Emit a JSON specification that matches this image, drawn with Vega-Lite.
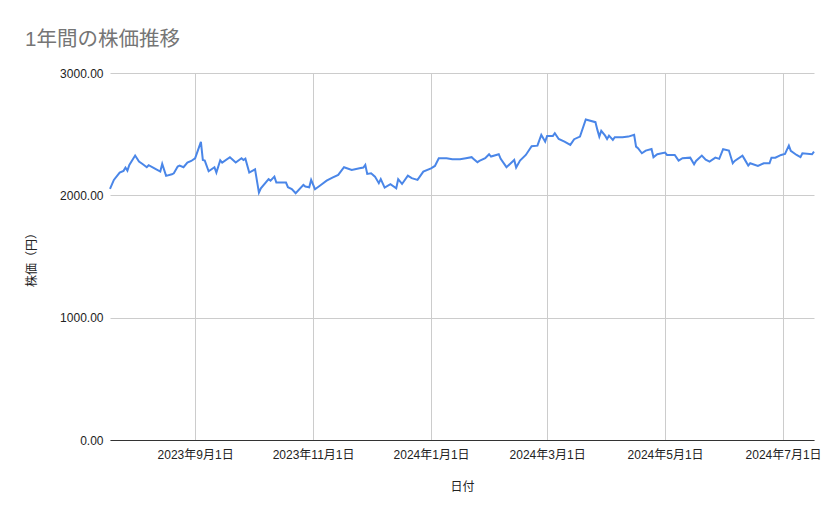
{
  "$schema": "https://vega.github.io/schema/vega-lite/v6.json",
  "width": 704,
  "height": 367,
  "autosize": "none",
  "padding": {"left": 110, "top": 73, "right": 25, "bottom": 79},
  "background": "#ffffff",
  "config": {
    "font": "Liberation Sans, Noto Sans CJK JP, sans-serif",
    "view": {"stroke": null}
  },
  "title": {
    "text": "1年間の株価推移",
    "anchor": "start",
    "dx": 0,
    "offset": 17,
    "fontSize": 20.5,
    "fontWeight": "normal",
    "color": "#757575"
  },
  "data": {
    "values": [
      {"date": "2023/07/19", "price": 2052},
      {"date": "2023/07/21", "price": 2126},
      {"date": "2023/07/24", "price": 2186},
      {"date": "2023/07/26", "price": 2200},
      {"date": "2023/07/27", "price": 2227},
      {"date": "2023/07/28", "price": 2202},
      {"date": "2023/07/29", "price": 2249},
      {"date": "2023/08/01", "price": 2325},
      {"date": "2023/08/03", "price": 2276},
      {"date": "2023/08/05", "price": 2254},
      {"date": "2023/08/07", "price": 2230},
      {"date": "2023/08/08", "price": 2246},
      {"date": "2023/08/11", "price": 2221},
      {"date": "2023/08/14", "price": 2194},
      {"date": "2023/08/15", "price": 2257},
      {"date": "2023/08/17", "price": 2159},
      {"date": "2023/08/20", "price": 2172},
      {"date": "2023/08/21", "price": 2180},
      {"date": "2023/08/23", "price": 2235},
      {"date": "2023/08/24", "price": 2243},
      {"date": "2023/08/26", "price": 2230},
      {"date": "2023/08/28", "price": 2268},
      {"date": "2023/08/30", "price": 2281},
      {"date": "2023/09/01", "price": 2303},
      {"date": "2023/09/04", "price": 2437},
      {"date": "2023/09/05", "price": 2289},
      {"date": "2023/09/06", "price": 2284},
      {"date": "2023/09/08", "price": 2197},
      {"date": "2023/09/11", "price": 2230},
      {"date": "2023/09/12", "price": 2186},
      {"date": "2023/09/14", "price": 2287},
      {"date": "2023/09/15", "price": 2268},
      {"date": "2023/09/19", "price": 2312},
      {"date": "2023/09/22", "price": 2268},
      {"date": "2023/09/25", "price": 2303},
      {"date": "2023/09/26", "price": 2289},
      {"date": "2023/09/27", "price": 2300},
      {"date": "2023/09/29", "price": 2186},
      {"date": "2023/10/02", "price": 2213},
      {"date": "2023/10/04", "price": 2022},
      {"date": "2023/10/05", "price": 2058},
      {"date": "2023/10/09", "price": 2132},
      {"date": "2023/10/10", "price": 2120},
      {"date": "2023/10/12", "price": 2153},
      {"date": "2023/10/13", "price": 2104},
      {"date": "2023/10/18", "price": 2104},
      {"date": "2023/10/19", "price": 2066},
      {"date": "2023/10/21", "price": 2052},
      {"date": "2023/10/23", "price": 2017},
      {"date": "2023/10/27", "price": 2085},
      {"date": "2023/10/28", "price": 2072},
      {"date": "2023/10/30", "price": 2066},
      {"date": "2023/10/31", "price": 2126},
      {"date": "2023/11/02", "price": 2050},
      {"date": "2023/11/05", "price": 2085},
      {"date": "2023/11/08", "price": 2120},
      {"date": "2023/11/11", "price": 2145},
      {"date": "2023/11/14", "price": 2167},
      {"date": "2023/11/17", "price": 2230},
      {"date": "2023/11/21", "price": 2208},
      {"date": "2023/11/25", "price": 2221},
      {"date": "2023/11/27", "price": 2227},
      {"date": "2023/11/28", "price": 2249},
      {"date": "2023/11/29", "price": 2175},
      {"date": "2023/12/01", "price": 2180},
      {"date": "2023/12/03", "price": 2153},
      {"date": "2023/12/05", "price": 2099},
      {"date": "2023/12/06", "price": 2132},
      {"date": "2023/12/08", "price": 2063},
      {"date": "2023/12/11", "price": 2091},
      {"date": "2023/12/14", "price": 2058},
      {"date": "2023/12/15", "price": 2132},
      {"date": "2023/12/17", "price": 2093},
      {"date": "2023/12/20", "price": 2161},
      {"date": "2023/12/22", "price": 2140},
      {"date": "2023/12/25", "price": 2126},
      {"date": "2023/12/28", "price": 2194},
      {"date": "2024/01/01", "price": 2221},
      {"date": "2024/01/03", "price": 2240},
      {"date": "2024/01/05", "price": 2303},
      {"date": "2024/01/09", "price": 2303},
      {"date": "2024/01/12", "price": 2295},
      {"date": "2024/01/16", "price": 2295},
      {"date": "2024/01/19", "price": 2303},
      {"date": "2024/01/22", "price": 2312},
      {"date": "2024/01/23", "price": 2298},
      {"date": "2024/01/25", "price": 2271},
      {"date": "2024/01/26", "price": 2281},
      {"date": "2024/01/29", "price": 2303},
      {"date": "2024/01/31", "price": 2336},
      {"date": "2024/02/01", "price": 2317},
      {"date": "2024/02/05", "price": 2336},
      {"date": "2024/02/06", "price": 2298},
      {"date": "2024/02/09", "price": 2230},
      {"date": "2024/02/13", "price": 2289},
      {"date": "2024/02/14", "price": 2227},
      {"date": "2024/02/16", "price": 2284},
      {"date": "2024/02/19", "price": 2330},
      {"date": "2024/02/22", "price": 2401},
      {"date": "2024/02/25", "price": 2406},
      {"date": "2024/02/27", "price": 2494},
      {"date": "2024/02/28", "price": 2467},
      {"date": "2024/02/29", "price": 2439},
      {"date": "2024/03/01", "price": 2486},
      {"date": "2024/03/04", "price": 2486},
      {"date": "2024/03/05", "price": 2508},
      {"date": "2024/03/07", "price": 2461},
      {"date": "2024/03/10", "price": 2439},
      {"date": "2024/03/13", "price": 2412},
      {"date": "2024/03/15", "price": 2459},
      {"date": "2024/03/18", "price": 2480},
      {"date": "2024/03/21", "price": 2620},
      {"date": "2024/03/26", "price": 2598},
      {"date": "2024/03/27", "price": 2535},
      {"date": "2024/03/28", "price": 2480},
      {"date": "2024/03/29", "price": 2527},
      {"date": "2024/03/31", "price": 2488},
      {"date": "2024/04/01", "price": 2461},
      {"date": "2024/04/02", "price": 2488},
      {"date": "2024/04/04", "price": 2453},
      {"date": "2024/04/05", "price": 2475},
      {"date": "2024/04/09", "price": 2475},
      {"date": "2024/04/12", "price": 2480},
      {"date": "2024/04/15", "price": 2494},
      {"date": "2024/04/16", "price": 2398},
      {"date": "2024/04/17", "price": 2385},
      {"date": "2024/04/19", "price": 2344},
      {"date": "2024/04/21", "price": 2366},
      {"date": "2024/04/24", "price": 2379},
      {"date": "2024/04/25", "price": 2312},
      {"date": "2024/04/27", "price": 2336},
      {"date": "2024/05/01", "price": 2349},
      {"date": "2024/05/02", "price": 2330},
      {"date": "2024/05/06", "price": 2330},
      {"date": "2024/05/08", "price": 2284},
      {"date": "2024/05/10", "price": 2303},
      {"date": "2024/05/14", "price": 2308},
      {"date": "2024/05/16", "price": 2254},
      {"date": "2024/05/17", "price": 2281},
      {"date": "2024/05/20", "price": 2325},
      {"date": "2024/05/22", "price": 2292},
      {"date": "2024/05/24", "price": 2276},
      {"date": "2024/05/27", "price": 2308},
      {"date": "2024/05/29", "price": 2298},
      {"date": "2024/05/31", "price": 2377},
      {"date": "2024/06/03", "price": 2366},
      {"date": "2024/06/05", "price": 2262},
      {"date": "2024/06/06", "price": 2281},
      {"date": "2024/06/10", "price": 2325},
      {"date": "2024/06/11", "price": 2298},
      {"date": "2024/06/13", "price": 2243},
      {"date": "2024/06/14", "price": 2262},
      {"date": "2024/06/18", "price": 2240},
      {"date": "2024/06/21", "price": 2262},
      {"date": "2024/06/24", "price": 2262},
      {"date": "2024/06/25", "price": 2308},
      {"date": "2024/06/27", "price": 2308},
      {"date": "2024/06/30", "price": 2330},
      {"date": "2024/07/02", "price": 2339},
      {"date": "2024/07/04", "price": 2406},
      {"date": "2024/07/05", "price": 2363},
      {"date": "2024/07/08", "price": 2330},
      {"date": "2024/07/10", "price": 2312},
      {"date": "2024/07/11", "price": 2344},
      {"date": "2024/07/16", "price": 2336},
      {"date": "2024/07/17", "price": 2357}
    ]
  },
  "mark": {"type": "line", "color": "#4a86e8", "strokeWidth": 2},
  "encoding": {
    "x": {
      "field": "date",
      "type": "temporal",
      "title": "日付",
      "scale": {"nice": false},
      "axis": {
        "values": [
          {"year": 2023, "month": 9, "date": 1},
          {"year": 2023, "month": 11, "date": 1},
          {"year": 2024, "month": 1, "date": 1},
          {"year": 2024, "month": 3, "date": 1},
          {"year": 2024, "month": 5, "date": 1},
          {"year": 2024, "month": 7, "date": 1}
        ],
        "format": "%Y年%-m月%-d日",
        "labelFontSize": 12,
        "labelColor": "#222222",
        "labelPadding": 9,
        "ticks": false,
        "domainColor": "#333333",
        "domainWidth": 1,
        "grid": true,
        "gridColor": "#cccccc",
        "titleFontSize": 12,
        "titleFontWeight": "normal",
        "titleColor": "#222222",
        "titlePadding": 21
      }
    },
    "y": {
      "field": "price",
      "type": "quantitative",
      "title": "株価（円）",
      "scale": {"domain": [0, 3000], "nice": false},
      "axis": {
        "values": [0, 1000, 2000, 3000],
        "format": ".2f",
        "labelFontSize": 12,
        "labelColor": "#222222",
        "labelPadding": 7,
        "ticks": false,
        "domain": false,
        "grid": true,
        "gridColor": "#cccccc",
        "titleFontSize": 12,
        "titleFontWeight": "normal",
        "titleColor": "#222222",
        "titleX": -72
      }
    }
  }
}
